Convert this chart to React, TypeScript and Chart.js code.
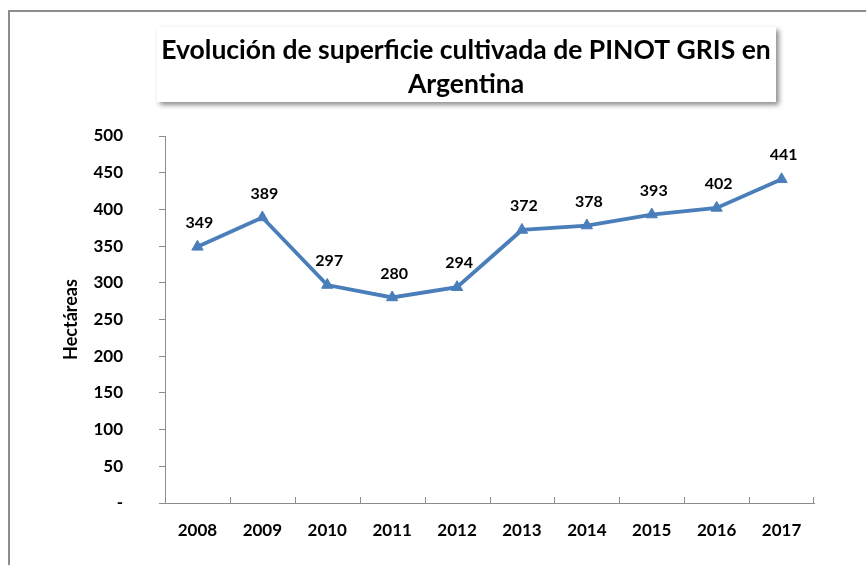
import React, { useEffect, useRef } from "react";
import { Chart, registerables } from "chart.js";

Chart.register(...registerables);

const years = ["2008", "2009", "2010", "2011", "2012", "2013", "2014", "2015", "2016", "2017"];
const hectares = [349, 389, 297, 280, 294, 372, 378, 393, 402, 441];
const titleLines = ["Evolución de superficie cultivada de PINOT GRIS en", "Argentina"];
const yAxisTitle = "Hectáreas";

const FONT = "Lato, 'Open Sans', sans-serif";
const LINE_COLOR = "#4A7EBB";
const AXIS_COLOR = "#8C8C8C";

const decorPlugin = {
  id: "decor",
  beforeDraw(chart: any) {
    const ctx = chart.ctx;
    ctx.save();
    ctx.fillStyle = "#ffffff";
    ctx.fillRect(0, 0, chart.width, chart.height);
    // outer frame
    ctx.strokeStyle = AXIS_COLOR;
    ctx.lineWidth = 2;
    ctx.strokeRect(9, 11, chart.width + 20, chart.height + 20);
    // title box with shadow
    ctx.shadowColor = "rgba(0,0,0,0.45)";
    ctx.shadowBlur = 5;
    ctx.shadowOffsetX = 3;
    ctx.shadowOffsetY = 3;
    ctx.fillStyle = "#ffffff";
    ctx.fillRect(157, 27, 619, 75);
    ctx.shadowColor = "transparent";
    ctx.fillStyle = "#000";
    ctx.font = `bold 26.5px ${FONT}`;
    ctx.textAlign = "center";
    ctx.textBaseline = "middle";
    ctx.fillText(titleLines[0], 466, 50);
    ctx.fillText(titleLines[1], 466, 84);
    ctx.restore();
  },
  afterDatasetsDraw(chart: any) {
    const ctx = chart.ctx;
    const x = chart.scales.x;
    const area = chart.chartArea;
    ctx.save();
    // inward tick marks between categories
    ctx.strokeStyle = AXIS_COLOR;
    ctx.lineWidth = 1;
    ctx.beginPath();
    for (let i = 1; i <= years.length; i++) {
      const px = Math.round((x.getPixelForValue(i - 1) + x.getPixelForValue(i)) / 2) + 0.5;
      const bx = i === years.length ? area.right - 0.5 : px;
      ctx.moveTo(bx, area.bottom);
      ctx.lineTo(bx, area.bottom - 6);
    }
    ctx.stroke();
    // y axis title
    ctx.save();
    ctx.translate(71, (area.top + area.bottom) / 2);
    ctx.rotate(-Math.PI / 2);
    ctx.fillStyle = "#000";
    ctx.font = `bold 18px ${FONT}`;
    ctx.textAlign = "center";
    ctx.textBaseline = "middle";
    ctx.fillText(yAxisTitle, 0, 0);
    ctx.restore();
    // data labels
    const meta = chart.getDatasetMeta(0);
    ctx.fillStyle = "#000";
    ctx.font = `bold 16px ${FONT}`;
    ctx.textAlign = "center";
    ctx.textBaseline = "middle";
    meta.data.forEach((pt: any, i: number) => {
      ctx.fillText(String(hectares[i]), pt.x + 2, pt.y - 24);
    });
    ctx.restore();
  },
};

export default function App() {
  const ref = useRef<HTMLCanvasElement | null>(null);
  useEffect(() => {
    if (!ref.current) return;
    const chart = new Chart(ref.current, {
      type: "line",
      data: {
        labels: years,
        datasets: [
          {
            data: hectares,
            borderColor: LINE_COLOR,
            backgroundColor: LINE_COLOR,
            borderWidth: 3.8,
            pointStyle: "triangle",
            pointRadius: 6.5,
            pointBorderWidth: 1,
            tension: 0,
          },
        ],
      },
      plugins: [decorPlugin],
      options: {
        responsive: false,
        animation: false,
        devicePixelRatio: 1,
        layout: { padding: { left: 0, top: 136, right: 52, bottom: 0 } },
        plugins: {
          legend: { display: false },
          title: { display: false },
          tooltip: { enabled: false },
        },
        scales: {
          x: {
            type: "category",
            offset: true,
            grid: { display: false, drawTicks: false },
            border: { display: true, color: AXIS_COLOR, width: 1 },
            ticks: {
              color: "#000",
              font: { family: FONT, weight: "bold", size: 17 },
              padding: 17,
              maxRotation: 0,
            },
            afterFit: (s: any) => {
              s.height = 62;
            },
          },
          y: {
            min: 0,
            max: 500,
            grid: { drawOnChartArea: false, drawTicks: true, tickLength: 6, color: AXIS_COLOR },
            border: { display: true, color: AXIS_COLOR, width: 1 },
            ticks: {
              stepSize: 50,
              color: "#000",
              font: { family: FONT, weight: "bold", size: 17 },
              padding: 36,
              callback: (v: any) => (v === 0 ? "-" : String(v)),
            },
            title: { display: false },
            afterFit: (s: any) => {
              s.width = 165;
            },
          },
        },
      },
    });
    return () => chart.destroy();
  }, []);
  return (
    <div style={{ position: "absolute", left: 0, top: 0, width: 866, height: 565, background: "#fff" }}>
      <canvas ref={ref} width={866} height={565} style={{ display: "block" }} />
    </div>
  );
}
